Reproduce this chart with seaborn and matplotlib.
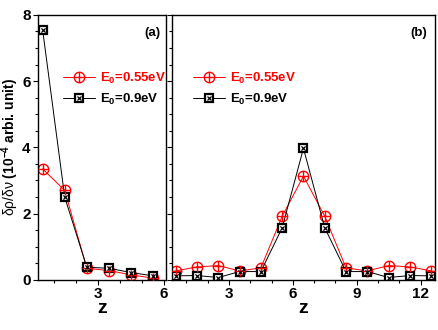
import numpy as np
import pandas as pd
import seaborn as sns
import matplotlib.pyplot as plt
from matplotlib.lines import Line2D
from matplotlib.legend_handler import HandlerTuple
from matplotlib.ticker import MultipleLocator

# panel (a)
z_a = [0.5, 1.5, 2.5, 3.5, 4.5, 5.5]
red_a = [3.35, 2.70, 0.35, 0.28, 0.15, 0.05]
black_a = [7.55, 2.50, 0.38, 0.35, 0.22, 0.12]

# panel (b)
z_b = [0.5, 1.5, 2.5, 3.5, 4.5, 5.5, 6.5, 7.5, 8.5, 9.5, 10.5, 11.5, 12.5]
red_b = [0.27, 0.39, 0.43, 0.27, 0.36, 1.92, 3.13, 1.92, 0.36, 0.27, 0.43, 0.39, 0.27]
black_b = [0.12, 0.13, 0.07, 0.25, 0.25, 1.57, 3.97, 1.57, 0.25, 0.25, 0.07, 0.13, 0.12]

labels = [r"E$_\mathbf{0}$=0.55eV", r"E$_\mathbf{0}$=0.9eV"]

sns.set_style("ticks")
plt.rcParams['font.family'] = ['Liberation Sans', 'DejaVu Sans']
plt.rcParams['mathtext.fontset'] = 'custom'
plt.rcParams['mathtext.rm'] = 'Liberation Sans'
plt.rcParams['mathtext.it'] = 'Liberation Sans:italic'
plt.rcParams['mathtext.bf'] = 'Liberation Sans:bold'
for k in ['text.color', 'axes.labelcolor', 'xtick.color', 'ytick.color', 'axes.edgecolor']:
    plt.rcParams[k] = 'black'

fig = plt.figure(figsize=(4.39, 3.30), dpi=100)
ax1 = fig.add_axes([0.087, 0.152, 0.291, 0.803])
ax2 = fig.add_axes([0.392, 0.152, 0.599, 0.803])


def draw(ax, z, red, black):
    df = pd.DataFrame({"z": z, "red": red, "black": black})
    sns.lineplot(data=df, x="z", y="red", ax=ax, color="red", lw=0.7,
                 marker="o", markersize=7.5, markerfacecolor="none",
                 markeredgecolor="red", markeredgewidth=1.0)
    sns.scatterplot(data=df, x="z", y="red", ax=ax, marker="+", color="red",
                    s=48, linewidth=1.0, zorder=5)
    sns.lineplot(data=df, x="z", y="black", ax=ax, color="black", lw=0.7,
                 marker="s", markersize=6, markerfacecolor="white",
                 markeredgecolor="black", markeredgewidth=1.6)
    sns.scatterplot(data=df, x="z", y="black", ax=ax, marker="x", color="black",
                    s=9, linewidth=0.9, zorder=5)
    ax.set_ylim(0, 8)
    ax.yaxis.set_major_locator(MultipleLocator(2))
    ax.yaxis.set_minor_locator(MultipleLocator(0.5))
    ax.xaxis.set_major_locator(MultipleLocator(3))
    ax.xaxis.set_minor_locator(MultipleLocator(1))
    ax.tick_params(which="both", direction="out", right=False, top=False, width=0.8)
    ax.tick_params(which="major", length=3.5, labelsize=11, pad=2)
    ax.tick_params(which="minor", length=2)
    for lab in ax.get_xticklabels() + ax.get_yticklabels():
        lab.set_fontweight("bold")
    for s in ax.spines.values():
        s.set_linewidth(1.0)
    ax.set_xlabel("z", fontsize=14, fontweight="bold", labelpad=-1)
    ax.set_ylabel("")
    h_red = (Line2D([], [], color="red", lw=0.7, marker="o", ms=7.5, mfc="none", mec="red"),
             Line2D([], [], ls="none", color="red", marker="+", ms=7, mew=1.0))
    h_blk = (Line2D([], [], color="black", lw=0.7, marker="s", ms=6, mfc="white", mec="black", mew=1.6),
             Line2D([], [], ls="none", color="black", marker="x", ms=3, mew=0.9))
    leg = ax.legend([h_red, h_blk], labels, handler_map={tuple: HandlerTuple(ndivide=1, pad=0)},
                    frameon=False, handlelength=2.4, handletextpad=0.38,
                    labelspacing=0.45, borderaxespad=0.0, borderpad=0.0,
                    prop={"weight": "bold", "size": 9.5}, loc="center left")
    leg.get_texts()[0].set_color("red")
    return leg


leg1 = draw(ax1, z_a, red_a, black_a)
leg1.set_bbox_to_anchor((0.195, 0.722), transform=ax1.transAxes)
ax1.set_xlim(0.3, 6.08)
ax1.set_ylabel(r"$\mathrm{δρ/δν}\ $(10$^{\mathbf{-4}}$ arbi. unit)", fontsize=10,
               fontweight="bold", labelpad=1)
ax1.text(0.96, 0.955, "(a)", transform=ax1.transAxes, ha="right", va="top",
         fontsize=9.5, fontweight="bold")

leg2 = draw(ax2, z_b, red_b, black_b)
leg2.set_bbox_to_anchor((0.08, 0.722), transform=ax2.transAxes)
ax2.set_xlim(0.33, 12.68)
ax2.tick_params(labelleft=False)
ax2.text(0.97, 0.955, "(b)", transform=ax2.transAxes, ha="right", va="top",
         fontsize=9.5, fontweight="bold")

fig.savefig("out.png", dpi=100)
